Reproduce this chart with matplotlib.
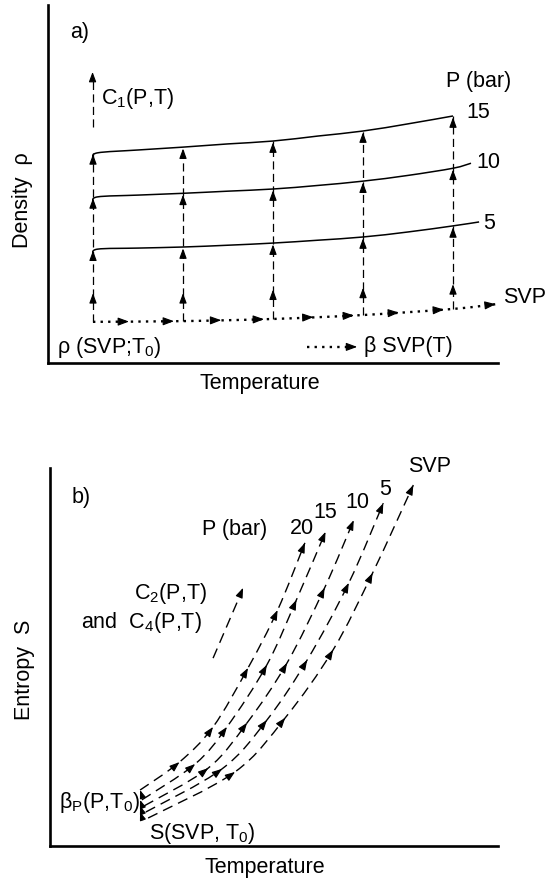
import matplotlib
matplotlib.use('Agg')
import matplotlib.pyplot as plt
from matplotlib import font_manager
from matplotlib.path import Path
from matplotlib.patches import PathPatch
import numpy as np

# ---------------- panel a data (arbitrary units 0-100) ----------------
T_cols = [10, 30, 50, 70, 90]
svp_T = [10, 30, 50, 70, 90, 100]
svp_rho = [11.5, 11.7, 12.3, 13.4, 15.1, 16.5]
iso_T = [10, 20, 30, 40, 50, 60, 70, 80, 90]
rho_15 = [58.7, 59.5, 60.3, 61.2, 62.0, 63.4, 64.8, 66.8, 69.0]
rho_10 = [46.4, 46.9, 47.4, 48.0, 48.6, 49.6, 50.8, 52.4, 54.4]
rho_5 = [31.8, 32.1, 32.4, 32.9, 33.5, 34.3, 35.2, 36.6, 38.3]
hook_drop = 1.5
iso10_ext = (94.0, 55.8)
iso5_ext = (95.8, 39.4)
mid_arrow_rho = [19.5, 19.5, 20.5, 21.0, 22.0]
svp_arrow_T = [18, 28, 38.5, 48, 59, 68, 78, 88, 99.5]

# ---------------- panel b data ----------------
b_curves = {
    '20':  ([20.1, 28.9, 36.4, 44.2, 50.8, 56.9], [14.8, 22.2, 31.5, 47.1, 62.4, 80.2]),
    '15':  ([20.5, 32.4, 39.5, 48.4, 55.0, 61.5], [12.2, 21.7, 31.5, 47.9, 65.1, 83.1]),
    '10':  ([21.0, 35.3, 44.0, 52.9, 61.3, 67.8], [10.6, 20.6, 32.6, 48.4, 68.3, 86.2]),
    '5':   ([21.4, 38.4, 48.4, 57.4, 66.7, 74.4], [9.0, 20.4, 33.3, 49.2, 69.6, 90.7]),
    'SVP': ([21.9, 41.3, 52.5, 63.2, 72.0, 81.1], [7.4, 19.6, 33.9, 51.9, 72.2, 95.5]),
}
b_labels = [('SVP', 80.0, 100.3), ('5', 74.8, 94.2), ('10', 68.5, 91.0),
            ('15', 61.5, 88.1), ('20', 56.2, 84.1)]

# ---------------- fonts ----------------
names = {f.name for f in font_manager.fontManager.ttflist}
if 'Liberation Sans' in names:
    FAM, FS = 'Liberation Sans', 15.5
else:
    FAM, FS = 'DejaVu Sans', 13.5
plt.rcParams['font.family'] = [FAM, 'DejaVu Sans']
plt.rcParams['mathtext.fontset'] = 'custom'
plt.rcParams['mathtext.rm'] = FAM
plt.rcParams['mathtext.it'] = FAM
plt.rcParams['mathtext.default'] = 'rm'

fig = plt.figure(figsize=(5.45, 8.84), dpi=100)
axa = fig.add_axes([48/545, (884-363)/884, 450/545, 358/884])
axb = fig.add_axes([50/545, (884-846)/884, 448/545, 378/884])
for ax in (axa, axb):
    ax.set_xlim(0, 100)
    ax.set_ylim(0, 100)
    ax.spines['top'].set_visible(False)
    ax.spines['right'].set_visible(False)
    for s in ('left', 'bottom'):
        ax.spines[s].set_linewidth(1.9)
        ax.spines[s].set_capstyle('projecting')
    ax.set_xticks([])
    ax.set_yticks([])
    ax.patch.set_alpha(0)


def smooth(ax, xs, ys, **kw):
    """Draw a smooth Bezier path through the given points."""
    P = np.column_stack([xs, ys]).astype(float)
    n = len(P)
    verts = [P[0]]
    codes = [Path.MOVETO]
    for i in range(n - 1):
        p_prev = P[i - 1] if i > 0 else P[i]
        p_next2 = P[i + 2] if i + 2 < n else P[i + 1]
        c1 = P[i] + (P[i + 1] - p_prev) / 6.0
        c2 = P[i + 1] - (p_next2 - P[i]) / 6.0
        verts += [c1, c2, P[i + 1]]
        codes += [Path.CURVE4] * 3
    ax.add_patch(PathPatch(Path(verts, codes), fill=False, capstyle='butt', **kw))


def head(ax, x, y, dx, dy, size=8.5):
    """Arrowhead with tip at (x,y) pointing along data direction (dx,dy)."""
    p0 = ax.transData.transform((x, y))
    p1 = ax.transData.transform((x - dx * 1e-3, y - dy * 1e-3))
    v = p0 - p1
    v = v / np.hypot(*v)
    L = 6.0  # points
    ax.annotate('', xy=(x, y), xycoords='data',
                xytext=(-v[0] * L, -v[1] * L), textcoords='offset points',
                arrowprops=dict(arrowstyle='-|>,head_length=0.7,head_width=0.26',
                                color='black', lw=0.8, shrinkA=0, shrinkB=0,
                                mutation_scale=size),
                annotation_clip=False)


# ---------------- panel a ----------------
dash_a = (0, (6.5, 3.5))
smooth(axa, [iso_T[0], iso_T[0] + 1.0] + iso_T[1:],
       [rho_15[0] - hook_drop, rho_15[0]] + rho_15[1:], color='black', lw=1.1)
smooth(axa, [iso_T[0], iso_T[0] + 1.0] + iso_T[1:] + [iso10_ext[0]],
       [rho_10[0] - hook_drop, rho_10[0]] + rho_10[1:] + [iso10_ext[1]], color='black', lw=1.1)
smooth(axa, [iso_T[0], iso_T[0] + 1.0] + iso_T[1:] + [iso5_ext[0]],
       [rho_5[0] - hook_drop, rho_5[0]] + rho_5[1:] + [iso5_ext[1]], color='black', lw=1.1)
smooth(axa, svp_T, svp_rho, color='black', lw=1.7, linestyle=(0, (1, 2.2)))

for i, T in enumerate(T_cols):
    y0 = svp_rho[i]
    j = iso_T.index(T)
    y1 = rho_15[j]
    axa.plot([T, T], [y0, y1], color='black', lw=0.9, linestyle=dash_a)
    head(axa, T, mid_arrow_rho[i], 0, 1)
    head(axa, T, rho_5[j] - 0.4, 0, 1)
    head(axa, T, rho_10[j] - 0.4, 0, 1)
    head(axa, T, rho_15[j] - 0.4, 0, 1)

for T in svp_arrow_T:
    y = np.interp(T, svp_T, svp_rho)
    slope = np.interp(T, svp_T[1:], np.diff(svp_rho) / np.diff(svp_T))
    head(axa, T, y, 1, slope, size=9.5)

# C1 arrow
axa.plot([9.9, 9.9], [65.9, 80.0], color='black', lw=0.9, linestyle=dash_a)
head(axa, 9.9, 81.3, 0, 1)
axa.text(11.8, 74.0, 'C$_1$(P,T)', fontsize=FS, ha='left', va='center')
axa.text(7.0, 92.2, 'a)', fontsize=FS, ha='center', va='center')
axa.text(88.4, 78.5, 'P (bar)', fontsize=FS, ha='left', va='center', clip_on=False)
axa.text(93.0, 70.1, '15', fontsize=FS, ha='left', va='center', clip_on=False)
axa.text(95.1, 55.9, '10', fontsize=FS, ha='left', va='center', clip_on=False)
axa.text(96.7, 39.1, '5', fontsize=FS, ha='left', va='center', clip_on=False)
axa.text(101.2, 18.2, 'SVP', fontsize=FS, ha='left', va='center', clip_on=False)
axa.text(2.1, 4.2, 'ρ (SVP;T$_0$)', fontsize=FS, ha='left', va='center')
axa.plot([57.5, 67.5], [4.5, 4.5], color='black', lw=1.7, linestyle=(0, (1, 2.2)))
head(axa, 68.7, 4.5, 1, 0, size=9.5)
axa.text(70.3, 4.5, 'β SVP(T)', fontsize=FS, ha='left', va='center')
axa.text(-0.056, 0.455, 'Density  ρ', fontsize=FS, rotation=90, ha='center',
         va='center', transform=axa.transAxes)
axa.text(0.47, -0.056, 'Temperature', fontsize=FS, ha='center', va='center',
         transform=axa.transAxes)

# ---------------- panel b ----------------
dash_b = (0, (7.5, 4.5))
for name, (xs, ys) in b_curves.items():
    smooth(axb, xs, ys, color='black', lw=1.0, linestyle=dash_b)
    n = len(xs)
    for i in range(1, n):
        if i < n - 1:
            dx, dy = xs[i + 1] - xs[i - 1], ys[i + 1] - ys[i - 1]
        else:
            dx, dy = xs[i] - xs[i - 1], ys[i] - ys[i - 1]
        head(axb, xs[i], ys[i], dx, dy)

# beta_P small upward arrows at the start
starts_y = [b_curves[k][1][0] for k in ('SVP', '5', '10', '15', '20')]
for y in starts_y[1:]:
    head(axb, 20.1, y, -0.3, 1, size=7)

for lab, x, y in b_labels:
    axb.text(x, y, lab, fontsize=FS, ha='left' if lab == 'SVP' else 'center',
             va='center', clip_on=False)
axb.text(41.3, 83.6, 'P (bar)', fontsize=FS, ha='center', va='center')
axb.text(7.0, 92.1, 'b)', fontsize=FS, ha='center', va='center')
axb.text(26.9, 66.9, 'C$_2$(P,T)', fontsize=FS, ha='center', va='center')
axb.text(6.9, 59.0, 'and  C$_4$(P,T)', fontsize=FS, ha='left', va='center')
axb.plot([36.4, 42.5], [49.7, 66.5], color='black', lw=1.0, linestyle=dash_b)
head(axb, 43.1, 68.3, 6.7, 18.6)
axb.text(2.1, 11.6, 'β$_\\mathrm{P}$(P,T$_0$)', fontsize=FS, ha='left', va='center')
axb.text(22.2, 3.4, 'S(SVP, T$_0$)', fontsize=FS, ha='left', va='center')
axb.text(-0.058, 0.466, 'Entropy  S', fontsize=FS, rotation=90, ha='center',
         va='center', transform=axb.transAxes)
axb.text(0.48, -0.058, 'Temperature', fontsize=FS, ha='center', va='center',
         transform=axb.transAxes)

fig.savefig('out.png', dpi=100)
